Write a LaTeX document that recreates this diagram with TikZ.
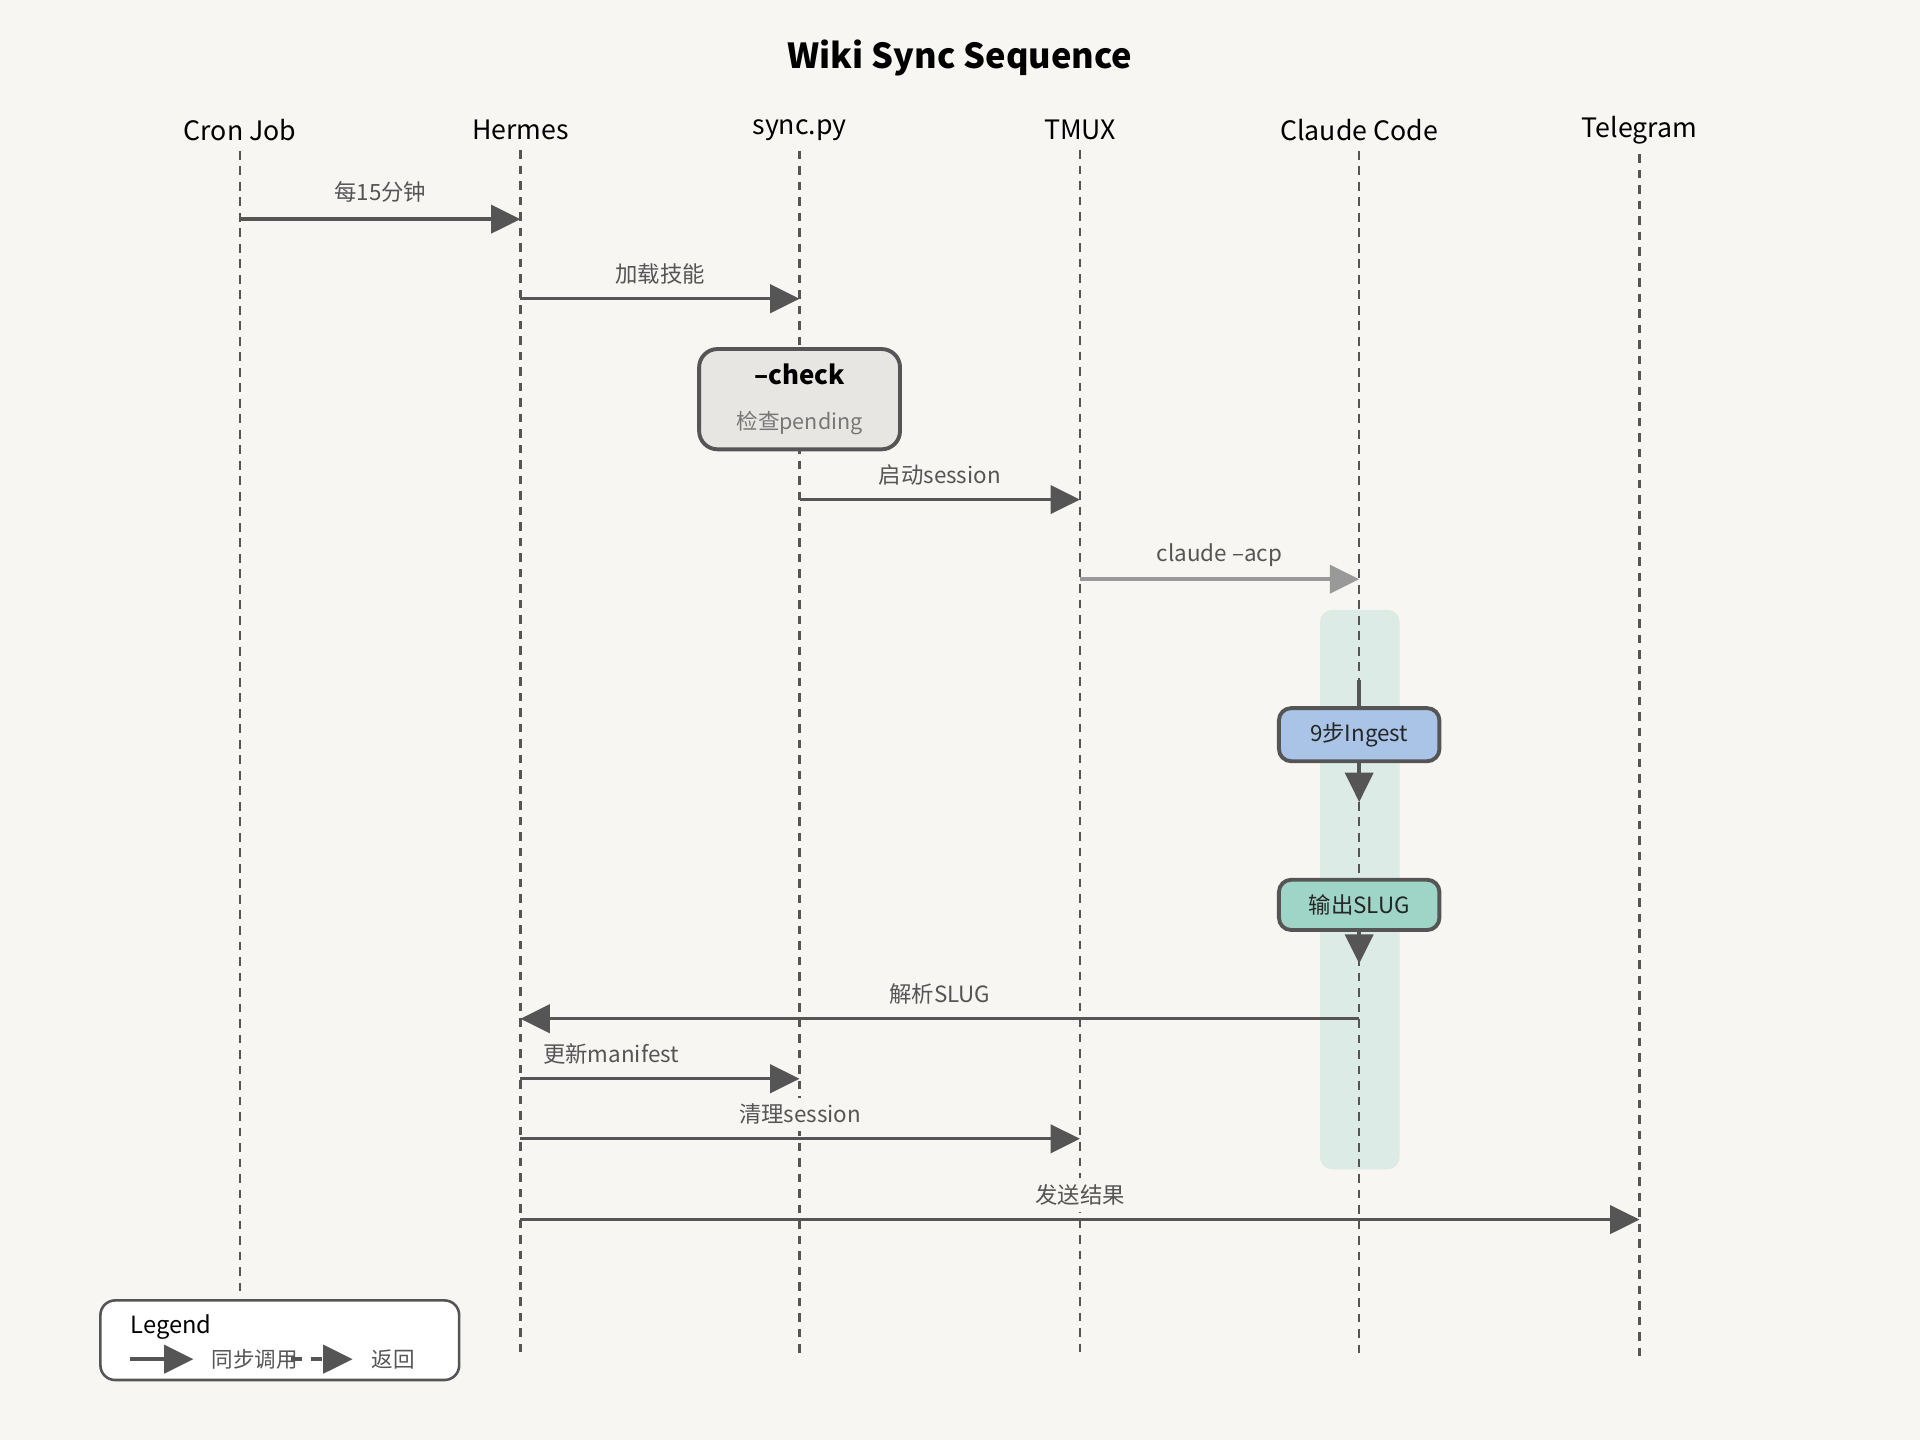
\documentclass[tikz,border=0pt]{standalone}
\usepackage{fontspec}
\setmainfont{Noto Sans CJK SC}
\usetikzlibrary{arrows.meta}
\definecolor{bgc}{HTML}{F7F6F3}
\definecolor{ink}{HTML}{555555}
\definecolor{actc}{HTML}{DCEBE6}
\definecolor{stepc}{HTML}{A9C4E6}
\definecolor{outc}{HTML}{9FD5C6}
\definecolor{chkc}{HTML}{E8E6E3}
\tikzset{
	actor/.style={font=\fontsize{6.2}{7}\selectfont, text=black},
	life/.style={ink, line width=0.55pt, dash pattern=on 2pt off 1.6pt},
	msg/.style={ink, line width=0.8pt, -{Triangle[length=2.4mm,width=2.3mm]}},
	lbl/.style={fill=bgc, inner sep=1.5pt, text=ink, font=\fontsize{5.2}{6}\selectfont},
	stepbox/.style={draw=ink, line width=0.9pt, rounded corners=1mm, minimum width=1.31cm, minimum height=0.41cm, font=\fontsize{5.2}{6}\selectfont, text=black!85}
}
\begin{document}
\begin{tikzpicture}[x=0.01cm, y=-0.01cm]
	\fill [bgc] (0,0) rectangle (1568,1176);
	\node [font=\bfseries\fontsize{8}{9}\selectfont] (title) at (784,47) {Wiki Sync Sequence};
	% actors and life lines
	\foreach \n/\x/\t/\e in {cron/196/Cron Job/1060, hermes/425/Hermes/1108, sync/653/sync.py/1108, tmux/882/TMUX/1108, claude/1110/Claude Code/1108, tg/1339/Telegram/1108} {
		\node [actor] (\n) at (\x,106) {\t};
		\coordinate (\n-end) at (\x,\e);
	}
	\fill [actc, rounded corners=1mm] (1078,498) rectangle (1143,955);
	\foreach \n in {cron, hermes, sync, tmux, claude, tg}
		\draw [life] (\n.south) ++(0,-4) -- (\n-end);
	% anchor points of the messages
	\foreach \n/\x in {cron/196, hermes/425, sync/653, tmux/882, claude/1110, tg/1339}
		\foreach \y/\k in {179/a, 244/b, 408/c, 473/d, 832/e, 881/f, 930/g, 996/h}
			\coordinate (\n-\k) at (\x,\y);
	\draw [msg] (cron-a) -- node [lbl, yshift=2.2mm] {每15分钟} (hermes-a);
	\draw [msg] (hermes-b) -- node [lbl, yshift=2mm] {加载技能} (sync-b);
	\node [draw=ink, fill=chkc, line width=0.9pt, rounded corners=1.5mm, minimum width=1.64cm, minimum height=0.81cm, align=center] (check) at (653,326)
		{{\bfseries\fontsize{6}{7}\selectfont --check}\\[-0.5mm]{\color{ink!80}\fontsize{5}{6}\selectfont 检查pending}};
	\draw [msg] (sync-c) -- node [lbl, yshift=2mm] {启动session} (tmux-c);
	\draw [msg, ink!60] (tmux-d) -- node [lbl, yshift=2mm] {claude --acp} (claude-d);
	\node [stepbox, fill=stepc] (ingest) at (1110,600) {9步Ingest};
	\node [stepbox, fill=outc] (slug) at (1110,739) {输出SLUG};
	\coordinate (ingest-in) at (1110,555);
	\coordinate (ingest-out) at (1110,655);
	\coordinate (slug-out) at (1110,787);
	\draw [ink, line width=0.8pt] (ingest-in) -- (ingest.north);
	\draw [msg] (ingest.south) -- (ingest-out);
	\draw [msg] (slug.south) -- (slug-out);
	\draw [msg] (claude-e) -- node [lbl, yshift=2mm] {解析SLUG} (hermes-e);
	\draw [msg] (hermes-f) -- node [lbl, yshift=2mm, xshift=-4mm] {更新manifest} (sync-f);
	\draw [msg] (hermes-g) -- node [lbl, yshift=2mm] {清理session} (tmux-g);
	\draw [msg] (hermes-h) -- node [lbl, yshift=2mm] {发送结果} (tg-h);
	% legend
	\draw [ink, fill=white, line width=0.6pt, rounded corners=1.2mm] (82,1062) rectangle (375,1127);
	\node [anchor=west, inner sep=0, font=\fontsize{5.5}{6}\selectfont] (legend) at (106,1084) {Legend};
	\coordinate (ls1) at (106,1110); \coordinate (le1) at (158,1110);
	\coordinate (ls2) at (238,1110); \coordinate (le2) at (288,1110);
	\draw [msg] (ls1) -- (le1);
	\node [anchor=west, inner sep=0, text=ink, font=\fontsize{5}{6}\selectfont] (sync-lg) at (172,1110) {同步调用};
	\draw [msg, dash pattern=on 2.5pt off 2pt] (ls2) -- (le2);
	\node [anchor=west, inner sep=0, text=ink, font=\fontsize{5}{6}\selectfont] (ret-lg) at (303,1110) {返回};
\end{tikzpicture}
\end{document}
